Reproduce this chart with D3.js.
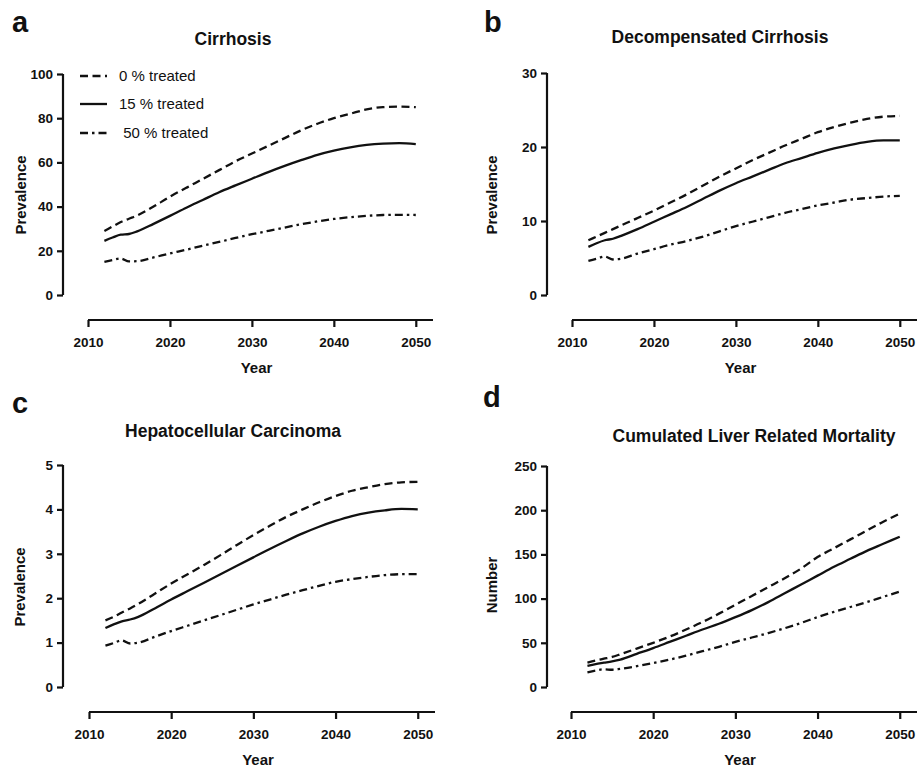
<!DOCTYPE html>
<html>
<head>
<meta charset="utf-8">
<script src="https://cdn.jsdelivr.net/npm/d3@7"></script>
<style>
  html, body { margin: 0; padding: 0; background: #fff; }
  svg { display: block; font-family: "Liberation Sans", Arial, Helvetica, sans-serif; }
</style>
</head>
<body>
<svg id="chart" width="919" height="769"></svg>
<script>
// ---------------- DATA ----------------
const years = [2012, 2013, 2014, 2015, 2016, 2018, 2020, 2022, 2024, 2026, 2028, 2030,
               2032, 2034, 2036, 2038, 2040, 2042, 2044, 2046, 2048, 2050];
const xTickValues = [2010, 2020, 2030, 2040, 2050];
const seriesNames = ["0 % treated", "15 % treated", " 50 % treated"];

const cirrhosis0  = [29, 31, 33, 34.5, 36, 40, 44.5, 48.5, 52.5, 56.5, 60.5, 64, 67.5, 71, 74.5, 77.5, 80, 82, 84, 85, 85.2, 85];
const cirrhosis15 = [24.5, 26, 27.3, 27.6, 28.8, 32.2, 35.8, 39.5, 43, 46.5, 49.6, 52.6, 55.6, 58.4, 61, 63.4, 65.3, 66.8, 67.9, 68.5, 68.7, 68.3];
const cirrhosis50 = [15, 15.8, 16.5, 15.2, 15.3, 17, 18.8, 20.5, 22.3, 24, 25.8, 27.5, 29, 30.5, 32, 33.3, 34.4, 35.2, 35.8, 36.2, 36.3, 36.2];

const decomp0  = [7.4, 7.9, 8.4, 8.9, 9.4, 10.4, 11.4, 12.5, 13.6, 14.8, 16.0, 17.1, 18.2, 19.2, 20.2, 21.1, 22.0, 22.7, 23.3, 23.8, 24.1, 24.2];
const decomp15 = [6.5, 7.0, 7.4, 7.6, 8.0, 8.9, 9.9, 10.9, 11.9, 13.0, 14.1, 15.1, 16.0, 16.9, 17.8, 18.5, 19.2, 19.8, 20.3, 20.7, 20.9, 20.9];
const decomp50 = [4.6, 4.9, 5.2, 4.8, 4.9, 5.6, 6.2, 6.8, 7.3, 7.9, 8.6, 9.3, 9.9, 10.5, 11.1, 11.6, 12.1, 12.5, 12.9, 13.1, 13.3, 13.4];

const hcc0  = [1.5, 1.58, 1.68, 1.77, 1.87, 2.1, 2.33, 2.54, 2.75, 2.97, 3.2, 3.42, 3.63, 3.83, 4.0, 4.16, 4.3, 4.42, 4.5, 4.57, 4.61, 4.62];
const hcc15 = [1.33, 1.41, 1.48, 1.52, 1.58, 1.77, 1.97, 2.16, 2.35, 2.54, 2.73, 2.92, 3.11, 3.29, 3.46, 3.61, 3.74, 3.85, 3.93, 3.98, 4.01, 4.0];
const hcc50 = [0.93, 0.99, 1.05, 0.98, 1.0, 1.13, 1.26, 1.38, 1.5, 1.62, 1.74, 1.86, 1.97, 2.08, 2.18, 2.28, 2.37, 2.43, 2.48, 2.52, 2.54, 2.54];

const mort0  = [27.5, 30, 32, 34, 37, 43.5, 50, 57, 65, 73.5, 83, 93, 103, 113, 123, 134, 147, 157, 167, 177, 187, 196];
const mort15 = [24, 26, 27.5, 29, 31, 37.5, 44, 51, 58, 65, 71.5, 79, 87, 96, 106, 116, 126, 136, 145, 154, 162, 170];
const mort50 = [16.5, 18.5, 20, 19.5, 20.5, 23.5, 27, 31, 35.5, 40.5, 45.5, 51, 56, 61, 66.5, 72.5, 79, 85, 90.5, 96, 102, 108];

const panelLetters = ["a", "b", "c", "d"];
const panelTitles = ["Cirrhosis", "Decompensated Cirrhosis", "Hepatocellular Carcinoma", "Cumulated Liver Related Mortality"];
const yLabels = ["Prevalence", "Prevalence", "Prevalence", "Number"];
const yTicksA = [0, 20, 40, 60, 80, 100];
const yTicksB = [0, 10, 20, 30];
const yTicksC = [0, 1, 2, 3, 4, 5];
const yTicksD = [0, 50, 100, 150, 200, 250];

// ---------------- LAYOUT ----------------
const panels = [
  { series: [cirrhosis0, cirrhosis15, cirrhosis50], yTicks: yTicksA,
    yAxisX: 63, yTop: 74, yBot: 295, xAxisY: 320, xLeft: 88, xRight: 433,
    letter: [12, 32], title: [233, 45], yLab: [26, 195], legend: true },
  { series: [decomp0, decomp15, decomp50], yTicks: yTicksB,
    yAxisX: 547, yTop: 73, yBot: 295, xAxisY: 320, xLeft: 572, xRight: 917,
    letter: [484, 32], title: [720, 43], yLab: [497, 195], legend: false },
  { series: [hcc0, hcc15, hcc50], yTicks: yTicksC,
    yAxisX: 63, yTop: 465, yBot: 687, xAxisY: 712, xLeft: 89, xRight: 435,
    letter: [12, 413], title: [233, 437], yLab: [25, 587], legend: false },
  { series: [mort0, mort15, mort50], yTicks: yTicksD,
    yAxisX: 547, yTop: 466, yBot: 687, xAxisY: 712, xLeft: 571, xRight: 917,
    letter: [483, 407], title: [754, 442], yLab: [497, 585], legend: false }
];

const dashes = ["8,4.5", null, "8,4,2.5,4"];
const svg = d3.select("#chart");
const xMax = 2052.1;

panels.forEach((p, i) => {
  const g = svg.append("g");
  const x = d3.scaleLinear().domain([2010, xMax]).range([p.xLeft, p.xRight]);
  const yMaxV = p.yTicks[p.yTicks.length - 1];
  const y = d3.scaleLinear().domain([0, yMaxV]).range([p.yBot, p.yTop]);

  const yAxis = d3.axisLeft(y).tickValues(p.yTicks).tickSize(6).tickPadding(4).tickFormat(d3.format("d"));
  const ya = g.append("g").attr("transform", `translate(${p.yAxisX},0)`).call(yAxis);
  const xAxis = d3.axisBottom(x).tickValues(xTickValues).tickSize(7).tickPadding(10).tickFormat(d3.format("d"));
  const xa = g.append("g").attr("transform", `translate(0,${p.xAxisY})`).call(xAxis);
  [ya, xa].forEach(a => {
    a.select(".domain").attr("stroke", "#111").attr("stroke-width", 2.2);
    a.selectAll(".tick line").attr("stroke", "#111").attr("stroke-width", 2.2);
    a.selectAll(".tick text").attr("fill", "#111").attr("font-size", 13.5)
      .attr("font-weight", "bold").attr("font-family", '"Liberation Sans", Arial, sans-serif');
  });
  ya.select(".domain").attr("d", `M0,${p.yTop}V${p.yBot}`);
  xa.select(".domain").attr("d", `M${p.xLeft},0H${p.xRight}`);

  const line = d3.line().x((d, k) => x(years[k])).y(d => y(d)).curve(d3.curveMonotoneX);
  p.series.forEach((s, k) => {
    g.append("path").datum(s).attr("d", line)
      .attr("fill", "none").attr("stroke", "#111").attr("stroke-width", 2.3)
      .attr("stroke-dasharray", dashes[k]);
  });

  g.append("text").attr("x", p.letter[0]).attr("y", p.letter[1])
    .attr("font-size", 29).attr("font-weight", "bold").attr("fill", "#111").text(panelLetters[i]);
  g.append("text").attr("x", p.title[0]).attr("y", p.title[1]).attr("text-anchor", "middle")
    .attr("font-size", 17.5).attr("font-weight", "bold").attr("fill", "#111").text(panelTitles[i]);
  g.append("text").attr("transform", `translate(${p.yLab[0]},${p.yLab[1]}) rotate(-90)`)
    .attr("text-anchor", "middle").attr("font-size", 15).attr("font-weight", "bold").attr("fill", "#111")
    .text(yLabels[i]);
  g.append("text").attr("x", (p.xLeft + p.xRight) / 2 - 4).attr("y", p.xAxisY + 53)
    .attr("text-anchor", "middle").attr("font-size", 15).attr("font-weight", "bold").attr("fill", "#111")
    .text("Year");

  if (p.legend) {
    const lg = g.append("g");
    const rows = [76, 104, 133];
    seriesNames.forEach((nm, k) => {
      lg.append("line").attr("x1", 80).attr("x2", 107).attr("y1", rows[k]).attr("y2", rows[k])
        .attr("stroke", "#111").attr("stroke-width", 2.3).attr("stroke-dasharray", dashes[k]);
      lg.append("text").attr("x", 119).attr("y", rows[k] + 5).attr("font-size", 15)
        .attr("fill", "#111").attr("xml:space", "preserve").style("white-space", "pre").text(nm);
    });
  }
});
</script>
</body>
</html>
